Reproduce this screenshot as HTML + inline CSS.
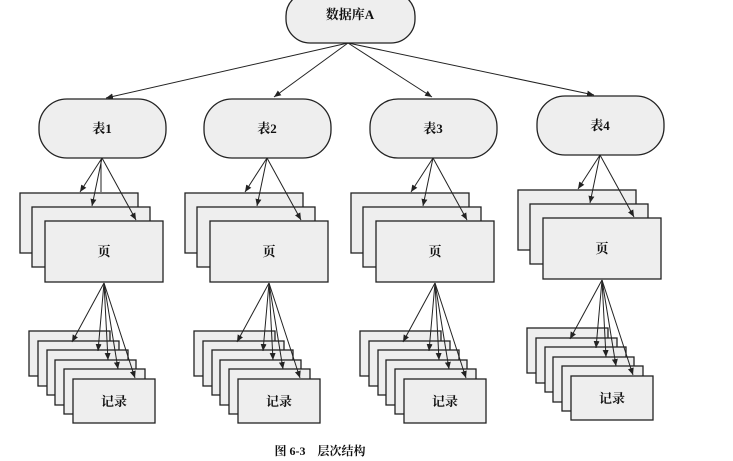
<!DOCTYPE html>
<html><head><meta charset="utf-8"><style>
html,body{margin:0;padding:0;background:#fff;}
svg{display:block;}
text{font-family:"Liberation Serif","Noto Serif CJK SC","Noto Sans CJK SC",serif;font-weight:bold;font-size:13px;fill:#111;}
</style></head><body>
<svg width="733" height="461" viewBox="0 0 733 461" xmlns="http://www.w3.org/2000/svg">
<defs>
<marker id="a" markerWidth="8" markerHeight="8" refX="7" refY="3" orient="auto" markerUnits="userSpaceOnUse"><path d="M0,0 L7,3 L0,6 Z" fill="#222"/></marker>
<g id="grp">
<rect x="39" y="99" width="127" height="59" rx="28" fill="#eeeeee" stroke="#222" stroke-width="1.3"/>
<rect x="20" y="193" width="118" height="60" fill="#eeeeee" stroke="#222" stroke-width="1.3"/>
<rect x="32" y="207" width="118" height="60" fill="#eeeeee" stroke="#222" stroke-width="1.3"/>
<rect x="45" y="221" width="118" height="61" fill="#eeeeee" stroke="#222" stroke-width="1.3"/>
<g stroke="#222" stroke-width="1" fill="none">
<line x1="102" y1="158" x2="80" y2="192" marker-end="url(#a)"/>
<line x1="102" y1="158" x2="92" y2="206" marker-end="url(#a)"/>
<line x1="102" y1="158" x2="136" y2="220" marker-end="url(#a)"/>
</g>
<text x="104" y="256" text-anchor="middle">页</text>
<rect x="29" y="331" width="81" height="45" fill="#eeeeee" stroke="#222" stroke-width="1.3"/>
<rect x="38" y="341" width="81" height="45" fill="#eeeeee" stroke="#222" stroke-width="1.3"/>
<rect x="47" y="350" width="81" height="45" fill="#eeeeee" stroke="#222" stroke-width="1.3"/>
<rect x="55" y="360" width="81" height="45" fill="#eeeeee" stroke="#222" stroke-width="1.3"/>
<rect x="64" y="369" width="81" height="45" fill="#eeeeee" stroke="#222" stroke-width="1.3"/>
<rect x="73" y="379" width="82" height="44" fill="#eeeeee" stroke="#222" stroke-width="1.3"/>
<g stroke="#222" stroke-width="1" fill="none">
<line x1="104" y1="283" x2="72" y2="342" marker-end="url(#a)"/>
<line x1="104" y1="283" x2="98" y2="351" marker-end="url(#a)"/>
<line x1="104" y1="283" x2="108" y2="360" marker-end="url(#a)"/>
<line x1="104" y1="283" x2="118" y2="369" marker-end="url(#a)"/>
<line x1="104" y1="283" x2="135" y2="378" marker-end="url(#a)"/>
</g>
<text x="114" y="406" text-anchor="middle">记录</text>
</g>
</defs>
<rect x="286" y="-8" width="129" height="51" rx="24" fill="#eeeeee" stroke="#222" stroke-width="1.3"/>
<text x="350" y="19" text-anchor="middle">数据库A</text>
<g stroke="#222" stroke-width="1" fill="none">
<line x1="348" y1="43" x2="106" y2="98" marker-end="url(#a)"/>
<line x1="348" y1="43" x2="274" y2="97" marker-end="url(#a)"/>
<line x1="348" y1="43" x2="432" y2="97" marker-end="url(#a)"/>
<line x1="348" y1="43" x2="594" y2="95" marker-end="url(#a)"/>
</g>
<use href="#grp"/>
<use href="#grp" x="165"/>
<use href="#grp" x="331"/>
<use href="#grp" x="498" y="-3"/>
<text x="102" y="133" text-anchor="middle">表1</text>
<text x="267" y="133" text-anchor="middle">表2</text>
<text x="433" y="133" text-anchor="middle">表3</text>
<text x="600" y="130" text-anchor="middle">表4</text>
<line x1="101" y1="192" x2="101" y2="160" stroke="#222" stroke-width="1"/>
<text x="320" y="455" text-anchor="middle" style="font-size:12px">图 6-3　层次结构</text>
</svg>
</body></html>
